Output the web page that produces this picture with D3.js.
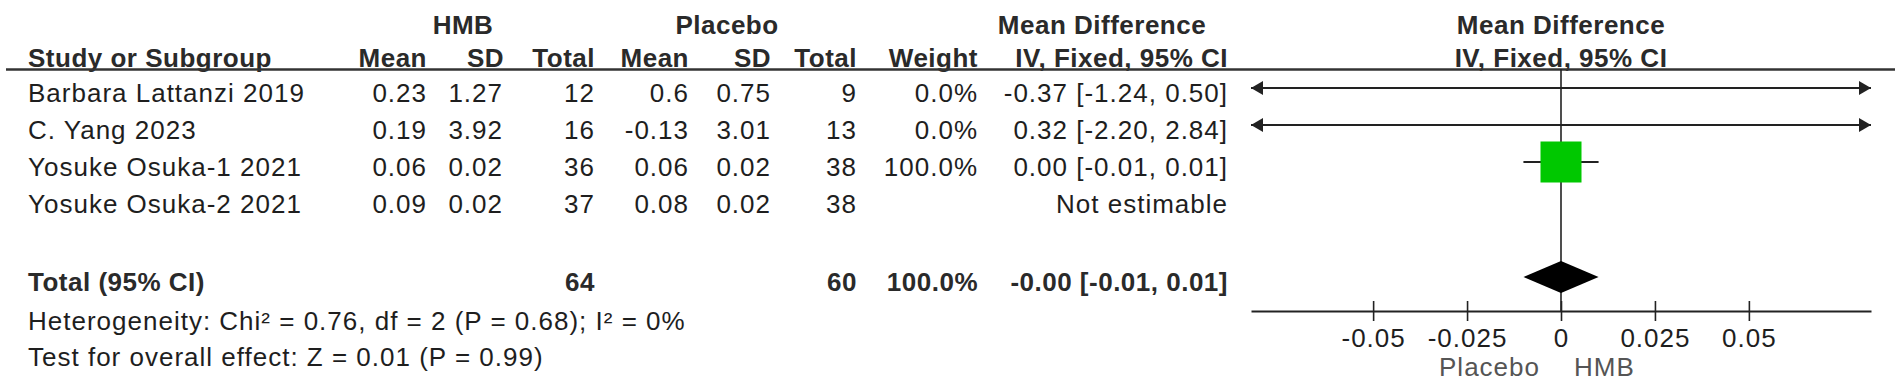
<!DOCTYPE html>
<html>
<head>
<meta charset="utf-8">
<script src="https://cdn.jsdelivr.net/npm/d3@7"></script>
<style>
  body { margin: 0; background: #fff; }
  text { font-family: "Liberation Sans", Arial, sans-serif; fill: #1e1e1e; }
  .reg { font-size: 26px; letter-spacing: 1px; }
  .bold { font-size: 26px; font-weight: bold; letter-spacing: 0.5px; fill: #2a2a2a; }
</style>
</head>
<body>
<div id="chart"></div>
<script>
// data
var studies = ["Barbara Lattanzi 2019", "C. Yang 2023", "Yosuke Osuka-1 2021", "Yosuke Osuka-2 2021"];
var hmbMean = ["0.23", "0.19", "0.06", "0.09"];
var hmbSD = ["1.27", "3.92", "0.02", "0.02"];
var hmbTotal = [12, 16, 36, 37];
var plaMean = ["0.6", "-0.13", "0.06", "0.08"];
var plaSD = ["0.75", "3.01", "0.02", "0.02"];
var plaTotal = [9, 13, 38, 38];
var weights = [0, 0, 100, null];
var md = [-0.37, 0.32, 0.00, null];
var ciLo = [-1.24, -2.20, -0.01, null];
var ciHi = [0.50, 2.84, 0.01, null];

var totalHMB = 64, totalPla = 60, totalWeight = 100;
var totalMD = -0.00, totalLo = -0.01, totalHi = 0.01;
var heterogeneity = "Heterogeneity: Chi\u00b2 = 0.76, df = 2 (P = 0.68); I\u00b2 = 0%";
var overallTest = "Test for overall effect: Z = 0.01 (P = 0.99)";
var tickVals = [-0.05, -0.025, 0, 0.025, 0.05];

var W = 1902, H = 389;
var svg = d3.select("#chart").append("svg")
  .attr("width", W).attr("height", H);
svg.append("rect").attr("width", W).attr("height", H).attr("fill", "#fff");

var x = d3.scaleLinear().domain([-0.0825, 0.0825]).range([1251, 1871]);
var rowY = d3.scaleLinear().domain([0, 1]).range([102, 139]); // baselines
var lineOff = 14;

function txt(cls, tx, ty, s, anchor) {
  return svg.append("text").attr("class", cls)
    .attr("x", tx).attr("y", ty)
    .attr("text-anchor", anchor || "start")
    .text(s);
}

// headers
txt("bold", 463, 34, "HMB", "middle");
txt("bold", 727, 34, "Placebo", "middle");
txt("bold", 1102, 34, "Mean Difference", "middle");
txt("bold", x(0), 34, "Mean Difference", "middle");
txt("bold", 28, 67, "Study or Subgroup");
txt("bold", 427, 67, "Mean", "end");
txt("bold", 504, 67, "SD", "end");
txt("bold", 595, 67, "Total", "end");
txt("bold", 689, 67, "Mean", "end");
txt("bold", 771, 67, "SD", "end");
txt("bold", 857, 67, "Total", "end");
txt("bold", 978, 67, "Weight", "end");
txt("bold", 1228, 67, "IV, Fixed, 95% CI", "end");
txt("bold", x(0), 67, "IV, Fixed, 95% CI", "middle");

svg.append("line").attr("x1", 6).attr("x2", 1895).attr("y1", 69.5).attr("y2", 69.5)
  .attr("stroke", "#333").attr("stroke-width", 2.5);

// study rows
studies.forEach(function(s, i) {
  var y = rowY(i);
  txt("reg", 28, y, s);
  txt("reg", 427, y, hmbMean[i], "end");
  txt("reg", 503, y, hmbSD[i], "end");
  txt("reg", 595, y, hmbTotal[i], "end");
  txt("reg", 689, y, plaMean[i], "end");
  txt("reg", 771, y, plaSD[i], "end");
  txt("reg", 857, y, plaTotal[i], "end");
  if (weights[i] !== null) txt("reg", 978, y, weights[i].toFixed(1) + "%", "end");
  var ci = md[i] === null ? "Not estimable"
    : md[i].toFixed(2) + " [" + ciLo[i].toFixed(2) + ", " + ciHi[i].toFixed(2) + "]";
  txt("reg", 1228, y, ci, "end");
});

// total + footnotes
var totY = 291;
txt("bold", 28, totY, "Total (95% CI)");
txt("bold", 595, totY, totalHMB, "end");
txt("bold", 857, totY, totalPla, "end");
txt("bold", 978, totY, totalWeight.toFixed(1) + "%", "end");
txt("bold", 1228, totY, "-" + Math.abs(totalMD).toFixed(2) + " [" + totalLo.toFixed(2) + ", " + totalHi.toFixed(2) + "]", "end");
txt("reg", 28, 330, heterogeneity);
txt("reg", 28, 366, overallTest);

// plot
var axisY = 311;
svg.append("line").attr("x1", x(0)).attr("x2", x(0)).attr("y1", 69).attr("y2", axisY)
  .attr("stroke", "#222").attr("stroke-width", 1.6);

var lo = x.domain()[0], hi = x.domain()[1];
var g = svg.append("g");
studies.forEach(function(s, i) {
  if (md[i] === null) return;
  var cy = rowY(i) - lineOff;
  var l = Math.max(ciLo[i], lo), r = Math.min(ciHi[i], hi);
  g.append("line").attr("x1", x(l)).attr("x2", x(r)).attr("y1", cy).attr("y2", cy)
    .attr("stroke", "#222").attr("stroke-width", 2);
  if (ciLo[i] < lo) {
    g.append("path").attr("d", "M" + x(lo) + "," + cy + "l12,-7v14z").attr("fill", "#222");
  }
  if (ciHi[i] > hi) {
    g.append("path").attr("d", "M" + x(hi) + "," + cy + "l-12,-7v14z").attr("fill", "#222");
  }
  if (md[i] >= lo && md[i] <= hi && weights[i] > 0) {
    var side = 41 * Math.sqrt(weights[i] / 100);
    g.append("rect").attr("x", x(md[i]) - side / 2).attr("y", cy - side / 2)
      .attr("width", side).attr("height", side).attr("fill", "#00c800");
  }
});

// diamond
var dy = 277;
svg.append("path")
  .attr("d", "M" + x(totalLo) + "," + dy + "L" + x(totalMD) + "," + (dy - 16) +
    "L" + x(totalHi) + "," + dy + "L" + x(totalMD) + "," + (dy + 16) + "Z")
  .attr("fill", "#000");

// axis
var axis = d3.axisBottom(x).tickValues(tickVals).tickSize(10).tickSizeOuter(0)
  .tickFormat(function(d) { return d === 0 ? "0" : String(d); });
var ax = svg.append("g").attr("transform", "translate(0," + axisY + ")").call(axis);
ax.select(".domain").attr("stroke", "#222").attr("stroke-width", 2);
ax.selectAll(".tick line").attr("y1", -10).attr("y2", 10).attr("stroke", "#222").attr("stroke-width", 1.6);
ax.selectAll(".tick text").attr("class", "reg").attr("y", 36).attr("dy", null)
  .style("font-size", "26px").attr("fill", "#1e1e1e");

svg.append("text").attr("class", "reg").attr("x", x(0) - 21).attr("y", 376)
  .attr("text-anchor", "end").style("fill", "#555").text("Placebo");
svg.append("text").attr("class", "reg").attr("x", x(0) + 13).attr("y", 376)
  .style("fill", "#555").text("HMB");
</script>
</body>
</html>
